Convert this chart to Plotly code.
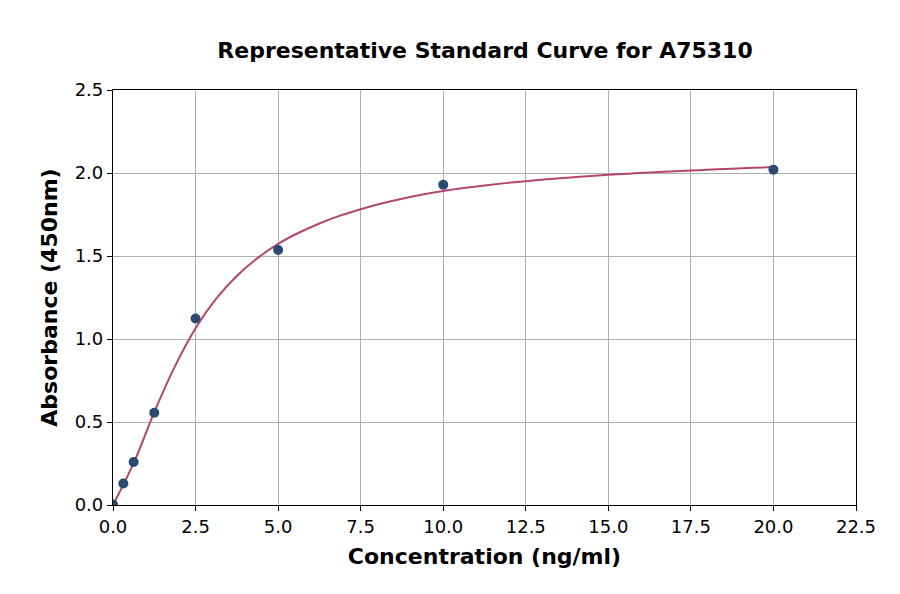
import plotly.graph_objects as go

# Standard points
conc = [0.0, 0.3125, 0.625, 1.25, 2.5, 5.0, 10.0, 20.0]
absorb = [0.003, 0.130, 0.259, 0.556, 1.123, 1.536, 1.929, 2.020]

# Fitted curve (every 0.625 ng/ml)
curve_x = [0.0, 0.625, 1.25, 1.875, 2.5, 3.125, 3.75, 4.375, 5.0, 5.625, 6.25, 6.875, 7.5,
           8.125, 8.75, 9.375, 10.0, 10.625, 11.25, 11.875, 12.5, 13.125, 13.75, 14.375, 15.0,
           15.625, 16.25, 16.875, 17.5, 18.125, 18.75, 19.375, 20.0]
curve_y = [0.0, 0.252, 0.56, 0.835, 1.065, 1.243, 1.38, 1.487, 1.573, 1.640, 1.696, 1.743, 1.782,
           1.816, 1.845, 1.870, 1.891, 1.909, 1.925, 1.939, 1.951, 1.962, 1.972, 1.981, 1.989,
           1.996, 2.003, 2.009, 2.015, 2.021, 2.026, 2.031, 2.036]

x_ticks = [0, 2.5, 5, 7.5, 10, 12.5, 15, 17.5, 20, 22.5]
y_ticks = [0, 0.5, 1.0, 1.5, 2.0, 2.5]

fig = go.Figure()
fig.add_trace(go.Scatter(x=curve_x, y=curve_y, mode="lines",
                         line=dict(color="#b5466b", width=2, shape="spline", smoothing=1.0),
                         hoverinfo="skip", showlegend=False))
fig.add_trace(go.Scatter(x=conc, y=absorb, mode="markers",
                         marker=dict(color="#2a4a70", size=10),
                         showlegend=False, cliponaxis=True))

axis_common = dict(showline=True, linecolor="black", linewidth=1.2, mirror=True,
                   ticks="outside", ticklen=5, tickcolor="black",
                   showgrid=True, gridcolor="#b0b0b0", gridwidth=1, zeroline=False,
                   tickfont=dict(family="DejaVu Sans", size=18, color="black"))

fig.update_layout(
    width=900, height=594,
    paper_bgcolor="white", plot_bgcolor="white",
    margin=dict(l=105, r=52, t=82, b=97),
    title=dict(text="<b>Representative Standard Curve for A75310</b>",
               x=0.53, xanchor="center", y=0.928, yanchor="middle",
               font=dict(family="DejaVu Sans", size=22, color="black")),
    xaxis=dict(range=[0, 22.5], tickvals=x_ticks,
               ticktext=[f"{v:.1f}" for v in x_ticks],
               title=dict(text="<b>Concentration (ng/ml)</b>", standoff=12,
                          font=dict(family="DejaVu Sans", size=22, color="black")),
               **axis_common),
    yaxis=dict(range=[0, 2.5], tickvals=y_ticks,
               ticktext=[f"{v:.1f}" for v in y_ticks],
               title=dict(text="<b>Absorbance (450nm)</b>", standoff=10,
                          font=dict(family="DejaVu Sans", size=22, color="black")),
               **axis_common),
)

fig.write_html("out.html")
